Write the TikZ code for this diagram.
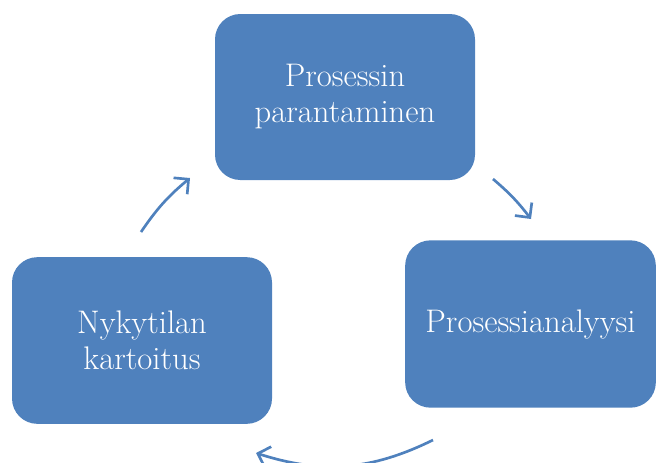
\documentclass[tikz,border=0pt]{standalone}
\usepackage{color}
\usepackage{tikz}
\usetikzlibrary{arrows.meta}
\definecolor{boxblue}{HTML}{4F81BD}

\begin{document}
\begin{tikzpicture}[x=0.75pt,y=-0.75pt,
		phase/.style={fill=boxblue,rounded corners=19pt,text=white,align=center,
			font=\fontsize{24.5}{27}\selectfont},
		cyc/.style={boxblue,line width=2pt,-{Straight Barb[length=8pt,width=16pt,line width=2pt]}}]
		\useasboundingbox (0,0) rectangle (656,462);
		\node[phase,minimum width=195pt,minimum height=124.5pt] (PA) at (345,97) {Prosessin\\parantaminen};
		\node[phase,minimum width=188pt,minimum height=125.5pt] (PR) at (530.5,324) {Prosessianalyysi};
		\node[phase,minimum width=195pt,minimum height=125pt] (NK) at (142,340.5) {Nykytilan\\kartoitus};
		\coordinate (A1) at (141,232);
		\coordinate (A2) at (190,178);
		\coordinate (B1) at (493,179);
		\coordinate (B2) at (531,219);
		\coordinate (C1) at (433,440);
		\coordinate (C2) at (256,453);

		\draw [cyc] (A1) to[bend left=8] (A2);
		\draw [cyc] (B1) to[bend left=6] (B2);
		\draw [cyc] (C1) to[bend left=22] (C2);
	    \end{tikzpicture}
\end{document}
